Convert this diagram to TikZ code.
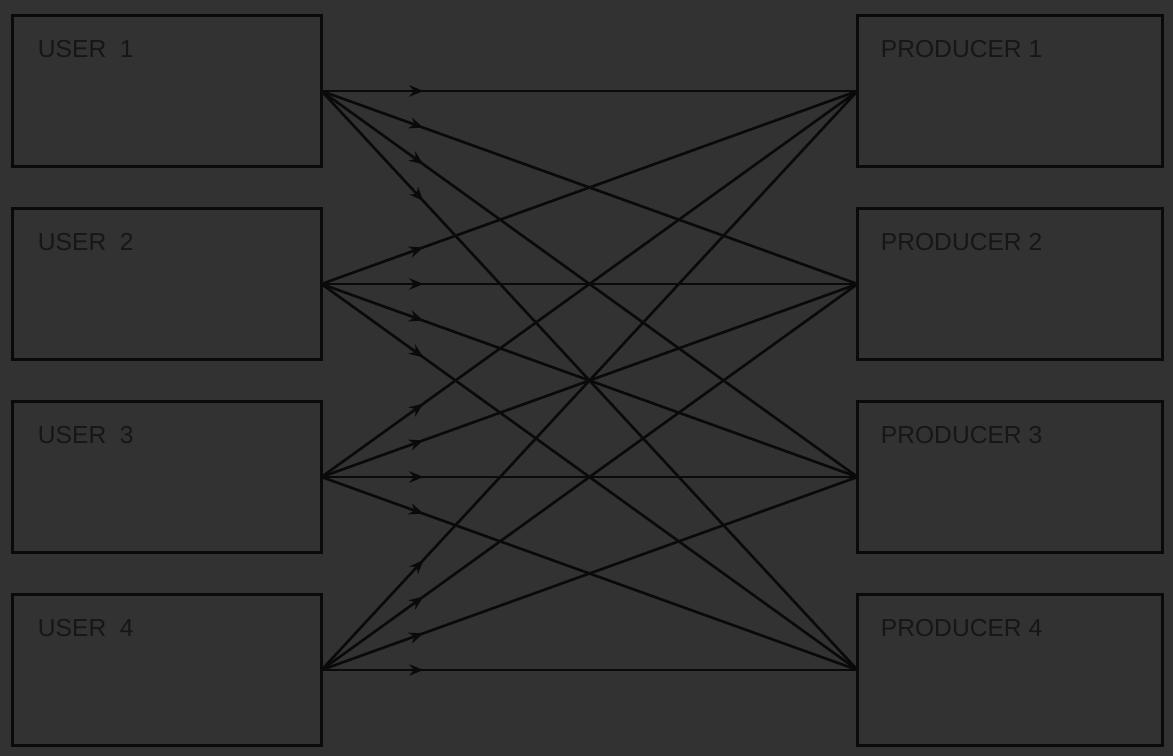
\documentclass[tikz,border=0pt]{standalone}
\usepackage{fontspec}
\setsansfont{Liberation Sans}
\usetikzlibrary{arrows.meta,decorations.markings}
\definecolor{plate}{RGB}{50,50,50}
\definecolor{ink}{RGB}{10,10,10}
\definecolor{type}{RGB}{22,22,22}

\begin{document}
\begin{tikzpicture}[x=.02cm,y=-.02cm,line width=1.6pt,
 party/.style={draw=ink,minimum width=6.18cm,minimum height=3.02cm,inner sep=0pt,outer sep=0pt},
 flow/.style={draw=ink,line width=1.5pt,postaction={decorate},
  decoration={markings,mark=at position .19 with {\arrow{Stealth[length=8pt,width=6.5pt]}}}},
 tag/.style={font=\sffamily\fontsize{14}{16}\selectfont,text=type,anchor=base west,inner sep=0pt}]
\fill[plate] (0,0) rectangle (1173,756);
\useasboundingbox (0,0) rectangle (1173,756);
% users on the left, producers on the right
\foreach \i/\yy in {1/91,2/284,3/477,4/670}{
 \node[party] (u\i) at (167,\yy) {};
 \node[party,minimum width=6.1cm] (p\i) at (1010,\yy) {};
 \node[tag] (ut\i) at ([shift={(24,42)}]u\i.north west) {USER~~\i};
 \node[tag] (pt\i) at ([shift={(22,42)}]p\i.north west) {PRODUCER \i};
}
% every user to every producer
\foreach \i in {1,...,4}{
 \foreach \j in {1,...,4}{
  \draw[flow] (u\i.east) -- (p\j.west);
 }
}
\end{tikzpicture}
\end{document}
